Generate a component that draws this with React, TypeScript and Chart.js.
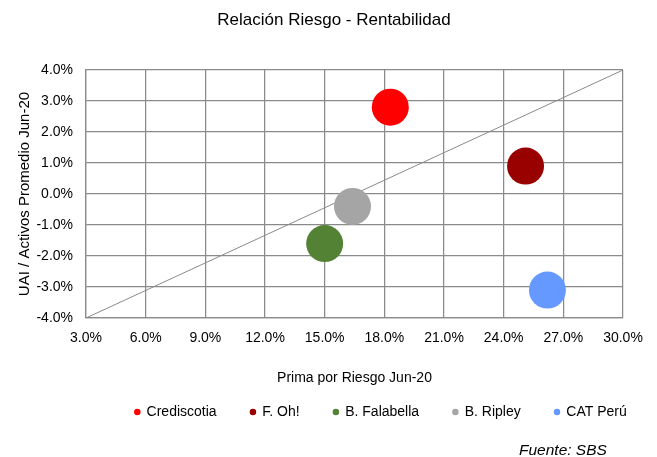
import React, { useEffect, useRef } from 'react';
import { Chart, registerables } from 'chart.js';

Chart.register(...registerables);

const seriesNames = ['Crediscotia', 'F. Oh!', 'B. Falabella', 'B. Ripley', 'CAT Perú'];
const primaRiesgo = [18.3, 25.1, 15.0, 16.4, 26.2];
const uaiActivos = [2.8, 0.9, -1.6, -0.4, -3.1];
const seriesColors = ['#FF0000', '#990000', '#548235', '#A5A5A5', '#6699FF'];
const refLineX = [3, 30];
const refLineY = [-4, 4];
const xTickValues = [3, 6, 9, 12, 15, 18, 21, 24, 27, 30];
const yTickValues = [-4, -3, -2, -1, 0, 1, 2, 3, 4];

const FONT = "'Liberation Sans', Arial, sans-serif";
const GRID = '#8a8a8a';
const LEGEND_DX = 101;
const TITLE_DX = 22.5;

const boxShift = {
  id: 'boxShift',
  afterLayout(chart: any) {
    const lg = chart.legend;
    if (lg) {
      lg.left += LEGEND_DX;
      lg.right += LEGEND_DX;
    }
    const tb = chart.titleBlock;
    if (tb) {
      tb.left += TITLE_DX;
      tb.right += TITLE_DX;
    }
  },
};

export default function App() {
  const ref = useRef<HTMLCanvasElement | null>(null);

  useEffect(() => {
    if (!ref.current) return;
    const datasets: any[] = seriesNames.map((name, i) => ({
      type: 'scatter',
      label: name,
      data: [{ x: primaRiesgo[i], y: uaiActivos[i] }],
      backgroundColor: seriesColors[i],
      borderColor: seriesColors[i],
      borderWidth: 0,
      pointRadius: 18.5,
      pointHoverRadius: 18.5,
    }));
    datasets.push({
      type: 'line',
      label: 'ref',
      data: refLineX.map((x, i) => ({ x, y: refLineY[i] })),
      borderColor: '#8a8a8a',
      borderWidth: 1,
      pointRadius: 0,
      fill: false,
    });

    const chart = new Chart(ref.current, {
      type: 'scatter',
      data: { datasets },
      plugins: [boxShift],
      options: {
        responsive: false,
        animation: false,
        layout: { padding: { left: 0, right: 34, top: 0, bottom: 28 } },
        plugins: {
          tooltip: { enabled: false },
          title: {
            display: true,
            text: 'Relación Riesgo - Rentabilidad',
            color: '#000',
            font: { family: FONT, size: 17, weight: 'normal' },
            padding: { top: 10, bottom: 39.6 },
          },
          legend: {
            display: true,
            position: 'bottom',
            align: 'start',
            labels: {
              usePointStyle: true,
              pointStyle: 'circle',
              boxWidth: 4.6,
              boxHeight: 4.6,
              padding: 34,
              color: '#000',
              font: { family: FONT, size: 14 },
              filter: (item: any) => item.text !== 'ref',
            },
          },
        },
        scales: {
          x: {
            type: 'linear',
            min: 3,
            max: 30,
            afterBuildTicks: (s: any) => {
              s.ticks = xTickValues.map((v) => ({ value: v }));
            },
            afterFit: (s: any) => {
              s.height = 53;
            },
            ticks: {
              color: '#000',
              font: { family: FONT, size: 14 },
              padding: 12,
              maxRotation: 0,
              autoSkip: false,
              callback: (v: any) => Number(v).toFixed(1) + '%',
            },
            grid: { color: GRID, lineWidth: 1.25, drawTicks: false },
            border: { color: GRID, width: 1.25 },
            title: {
              display: true,
              text: 'Prima por Riesgo Jun-20',
              color: '#000',
              font: { family: FONT, size: 14 },
              padding: { top: 0, bottom: -15.4 },
            },
          },
          y: {
            type: 'linear',
            min: -4,
            max: 4,
            afterBuildTicks: (s: any) => {
              s.ticks = yTickValues.map((v) => ({ value: v }));
            },
            afterFit: (s: any) => {
              s.width = 86;
            },
            ticks: {
              color: '#000',
              font: { family: FONT, size: 14 },
              padding: 13,
              autoSkip: false,
              callback: (v: any) => Number(v).toFixed(1) + '%',
            },
            grid: { color: GRID, lineWidth: 1.25, drawTicks: false },
            border: { color: GRID, width: 1.25 },
            title: {
              display: true,
              text: 'UAI / Activos Promedio Jun-20',
              color: '#000',
              font: { family: FONT, size: 15 },
              padding: { top: 16, bottom: 0 },
            },
          },
        },
      },
    } as any);
    return () => chart.destroy();
  }, []);

  return (
    <div style={{ position: 'fixed', left: 0, top: 0, width: 657, height: 457, background: '#fff' }}>
      <canvas ref={ref} width={657} height={457} style={{ display: 'block' }} />
      <div
        style={{
          position: 'absolute',
          left: 519,
          top: 441,
          fontFamily: FONT,
          fontStyle: 'italic',
          fontSize: 15.5,
          lineHeight: '18px',
          color: '#000',
          whiteSpace: 'nowrap',
        }}
      >
        Fuente: SBS
      </div>
    </div>
  );
}
